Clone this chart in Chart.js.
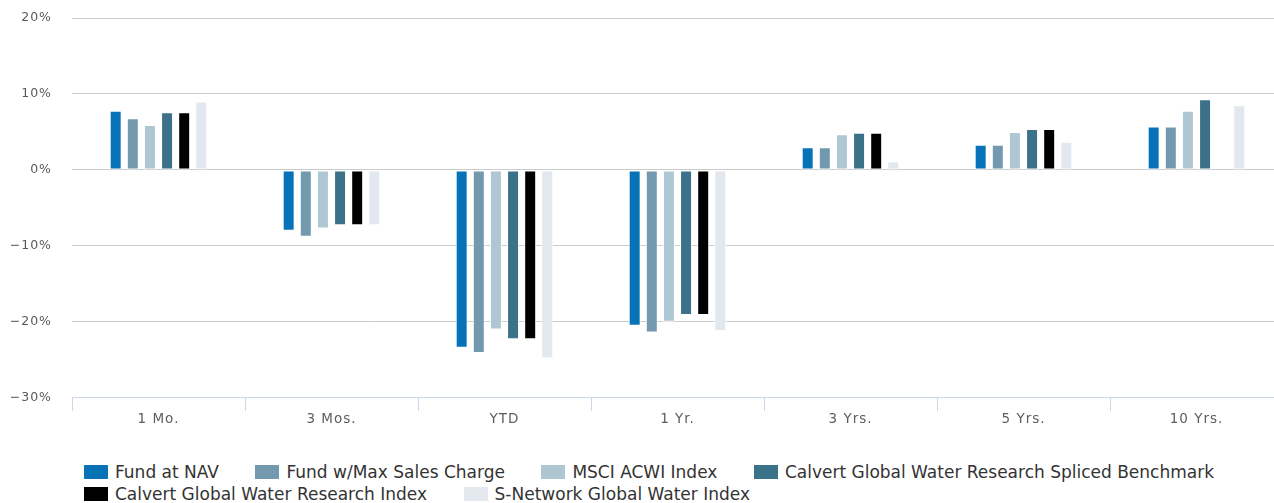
<!DOCTYPE html>
<html>
<head>
<meta charset="utf-8">
<script src="https://cdn.jsdelivr.net/npm/chart.js@4.4.1/dist/chart.umd.min.js"></script>
<style>
	html, body { margin: 0; padding: 0; background: #fff; overflow: hidden; }
	.chart-wrap { position: absolute; left: 0; top: 0; width: 1283px; height: 429px; }
	.legend {
		position: absolute; left: 84px; top: 461px; width: 1190px;
		display: flex; flex-wrap: wrap;
		font-family: 'DejaVu Sans', sans-serif; font-size: 17px; color: #333;
		line-height: 22px;
	}
	.legend-item { display: flex; align-items: center; margin-right: 36.5px; white-space: nowrap; }
	.legend-box { width: 24px; height: 14px; margin-right: 7px; }
</style>
</head>
<body>
<div class="chart-wrap"><canvas id="returnsChart"></canvas></div>
<div class="legend" id="legend"></div>
<script>
// ===== DATA =====
const categories = ['1 Mo.', '3 Mos.', 'YTD', '1 Yr.', '3 Yrs.', '5 Yrs.', '10 Yrs.'];

const fundNav        = [7.8, -8.0, -23.4, -20.5, 3.0, 3.3, 5.7];
const fundMaxCharge  = [6.8, -8.8, -24.1, -21.4, 3.0, 3.3, 5.7];
const msciAcwi       = [5.9, -7.7, -21.0, -20.0, 4.7, 5.0, 7.8];
const splicedBench   = [7.6, -7.3, -22.3, -19.1, 4.9, 5.4, 9.3];
const waterResearch  = [7.6, -7.3, -22.3, -19.1, 4.9, 5.4, null];
const sNetworkWater  = [9.0, -7.3, -24.8, -21.2, 1.1, 3.7, 8.5];

const seriesNames = [
	'Fund at NAV',
	'Fund w/Max Sales Charge',
	'MSCI ACWI Index',
	'Calvert Global Water Research Spliced Benchmark',
	'Calvert Global Water Research Index',
	'S-Network Global Water Index'
];
const seriesData = [fundNav, fundMaxCharge, msciAcwi, splicedBench, waterResearch, sNetworkWater];
const seriesColors = ['#0673b8', '#7399ae', '#afc6d3', '#3b7189', '#000000', '#e2e8ed'];

const yTicks = [-30, -20, -10, 0, 10, 20];

// ===== CHART =====
Chart.defaults.font.family = "'DejaVu Sans', sans-serif";

// axis labels in the original are slightly letter-spaced
const letterSpacing = {
	id: 'letterSpacing',
	beforeDraw(chart) {
		chart.ctx.letterSpacing = '1px';
	}
};

const ctx = document.getElementById('returnsChart').getContext('2d');

new Chart(ctx, {
	type: 'bar',
	data: {
		labels: categories,
		datasets: seriesData.map((values, i) => ({
			label: seriesNames[i],
			data: values,
			backgroundColor: seriesColors[i],
			borderColor: '#ffffff',
			borderWidth: 1,
			borderSkipped: false,
			categoryPercentage: 0.594,
			barPercentage: 0.7
		}))
	},
	options: {
		responsive: true,
		maintainAspectRatio: false,
		animation: false,
		layout: {
			padding: { top: 18, right: 0, bottom: 0, left: 0 }
		},
		plugins: {
			legend: { display: false },
			tooltip: { enabled: false }
		},
		scales: {
			x: {
				grid: {
					offset: true,
					drawOnChartArea: false,
					color: '#ccd6eb',
					tickLength: 13
				},
				border: { color: '#ccd6eb' },
				ticks: {
					color: '#5e5e5e',
					padding: 1,
					font: { size: 13.5 }
				}
			},
			y: {
				min: -30,
				max: 20,
				afterBuildTicks: function(scale) {
					scale.ticks = yTicks.map(v => ({ value: v }));
				},
				afterFit: function(scale) {
					scale.width = 72;
					scale.paddingTop = 0;
					scale.paddingBottom = 0;
				},
				grid: {
					color: '#cccccc',
					drawTicks: false
				},
				border: { display: false },
				ticks: {
					color: '#5a5a5a',
					padding: 20,
					font: { size: 12.5 },
					callback: function(value) {
						return (value < 0 ? '\u2212' + Math.abs(value) : value) + '%';
					}
				}
			}
		}
	},
	plugins: [letterSpacing]
});

// ===== LEGEND =====
const legendEl = document.getElementById('legend');
seriesNames.forEach((name, i) => {
	const item = document.createElement('div');
	item.className = 'legend-item';
	item.innerHTML = `<span class="legend-box" style="background:${seriesColors[i]}"></span>${name}`;
	legendEl.appendChild(item);
});
</script>
</body>
</html>
